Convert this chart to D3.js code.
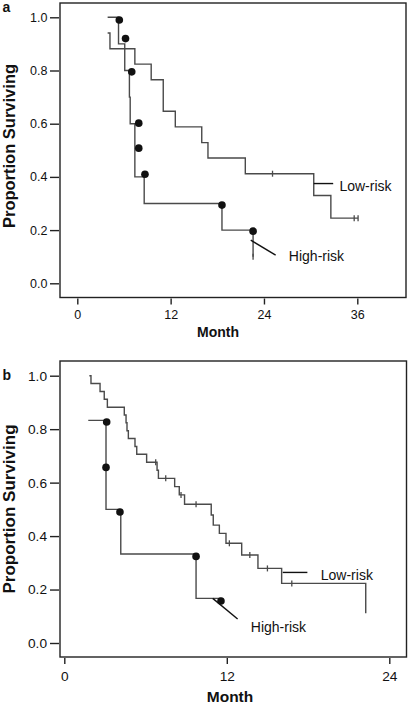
<!DOCTYPE html>
<html>
<head>
<meta charset="utf-8">
<script src="https://cdn.jsdelivr.net/npm/d3@7"></script>
<style>
  html, body { margin: 0; padding: 0; background: #fff; }
  svg { display: block; font-family: "Liberation Sans", Arial, Helvetica, sans-serif; }
</style>
</head>
<body>
<svg id="chart" width="410" height="704"></svg>
<script>
// ---------- Panel a data ----------
const aXTicks = [0, 12, 24, 36];
const aYTicks = [0.0, 0.2, 0.4, 0.6, 0.8, 1.0];
const aLowMonths = [3.9, 4.2, 7.4, 9.5, 11.05, 12.6, 16.0, 16.8, 21.6, 30.4, 32.6];
const aLowValues = [0.941, 0.882, 0.824, 0.765, 0.647, 0.588, 0.529, 0.471, 0.412, 0.33, 0.245];
const aLowEnd = 36.1;
const aLowCensorMonths = [25.1, 35.6, 36.1];
const aLowCensorValues = [0.412, 0.245, 0.245];
const aHighMonths = [3.9, 5.3, 6.1, 6.7, 6.8, 7.4, 8.6, 18.6, 22.6];
const aHighValues = [1.0, 0.9, 0.8, 0.7, 0.6, 0.4, 0.3, 0.2, 0.1];
const aHighEnd = 22.6;
const aHighCensorMonths = [22.6];
const aHighCensorValues = [0.1];
const aDotMonths = [5.4, 6.2, 7.0, 7.9, 7.9, 8.7, 18.6, 22.6];
const aDotValues = [0.99, 0.92, 0.795, 0.602, 0.508, 0.41, 0.294, 0.196];

// ---------- Panel b data ----------
const bXTicks = [0, 12, 24];
const bYTicks = [0.0, 0.2, 0.4, 0.6, 0.8, 1.0];
const bLowMonths = [1.85, 1.97, 2.64, 2.95, 3.18, 4.43, 4.56, 4.63, 4.73, 5.22, 5.35, 6.08, 6.85, 6.95, 8.15, 8.49, 8.88, 10.85, 11.0, 11.45, 11.94, 13.1, 14.3, 16.05, 22.26];
const bLowValues = [1.0, 0.971, 0.941, 0.912, 0.882, 0.853, 0.824, 0.794, 0.765, 0.735, 0.706, 0.676, 0.646, 0.616, 0.585, 0.554, 0.519, 0.479, 0.441, 0.41, 0.373, 0.329, 0.279, 0.223, 0.111];
const bLowEnd = 22.26;
const bLowCensorMonths = [6.75, 7.49, 8.62, 9.73, 12.19, 13.7, 15.0, 16.8];
const bLowCensorValues = [0.676, 0.616, 0.554, 0.519, 0.373, 0.329, 0.279, 0.223];
const bHighMonths = [1.77, 3.08, 4.17, 9.73];
const bHighValues = [0.833, 0.5, 0.333, 0.167];
const bHighEnd = 11.6;
const bHighCensorMonths = [];
const bHighCensorValues = [];
const bDotMonths = [3.13, 3.08, 4.11, 9.73, 11.57];
const bDotValues = [0.827, 0.657, 0.49, 0.324, 0.157];

// labels
const yTitle = "Proportion Surviving";
const xTitle = "Month";
const lowLabel = "Low-risk";
const highLabel = "High-risk";

const svg = d3.select("#chart");
const FONT = '"Liberation Sans", Arial, Helvetica, sans-serif';

function drawPanel(cfg) {
  const g = svg.append("g");
  const x = d3.scaleLinear().domain(cfg.xDomain).range(cfg.xRange);
  const y = d3.scaleLinear().domain([0, 1]).range(cfg.yRange);

  // frame
  g.append("rect")
    .attr("x", cfg.frame.x0).attr("y", cfg.frame.y0)
    .attr("width", cfg.frame.x1 - cfg.frame.x0)
    .attr("height", cfg.frame.y1 - cfg.frame.y0)
    .attr("fill", "none").attr("stroke", "#222").attr("stroke-width", 1.4);

  // y axis
  const ya = g.append("g").attr("transform", `translate(${cfg.frame.x0 - 1},0)`)
    .call(d3.axisLeft(y).tickValues(cfg.yTicks).tickFormat(d3.format(".1f"))
      .tickSize(9).tickSizeOuter(0).tickPadding(cfg.yPad));
  ya.select(".domain").remove();
  ya.selectAll("line").attr("stroke", "#222").attr("stroke-width", 1.4);
  ya.selectAll("text").attr("font-family", FONT).attr("font-size", cfg.tickFont).attr("fill", "#111");

  // x axis
  const xa = g.append("g").attr("transform", `translate(0,${cfg.frame.y1 + 1})`)
    .call(d3.axisBottom(x).tickValues(cfg.xTicks).tickFormat(d3.format("d"))
      .tickSize(6).tickSizeOuter(0).tickPadding(cfg.xPad));
  xa.select(".domain").remove();
  xa.selectAll("line").attr("stroke", "#222").attr("stroke-width", 1.4);
  xa.selectAll("text").attr("font-family", FONT).attr("font-size", cfg.tickFont).attr("fill", "#111");

  // titles
  g.append("text").attr("x", cfg.monthX).attr("y", cfg.monthY)
    .attr("text-anchor", "middle").attr("font-weight", "bold")
    .attr("font-size", cfg.monthFont).attr("fill", "#111").text(xTitle);
  g.append("text")
    .attr("transform", `translate(${cfg.yTitleX},${cfg.yTitleY}) rotate(-90)`)
    .attr("text-anchor", "middle").attr("font-weight", "bold")
    .attr("font-size", cfg.yTitleFont).attr("fill", "#111").text(yTitle);
  g.append("text").attr("x", cfg.letterX).attr("y", cfg.letterY)
    .attr("font-weight", "bold").attr("font-size", 14).attr("fill", "#111").text(cfg.letter);

  const line = d3.line().x(d => x(d[0])).y(d => y(d[1])).curve(d3.curveStepAfter);
  function curve(months, values, end) {
    const pts = months.map((m, i) => [m, values[i]]);
    if (end > months[months.length - 1]) pts.push([end, values[values.length - 1]]);
    g.append("path").attr("d", line(pts)).attr("fill", "none")
      .attr("stroke", "#4a4a4a").attr("stroke-width", 1.4);
  }
  function censors(months, values) {
    g.selectAll(null).data(months.map((m, i) => [m, values[i]])).enter()
      .append("line")
      .attr("x1", d => x(d[0])).attr("x2", d => x(d[0]))
      .attr("y1", d => y(d[1]) - 3).attr("y2", d => y(d[1]) + 3)
      .attr("stroke", "#4a4a4a").attr("stroke-width", 1.3);
  }
  curve(cfg.lowM, cfg.lowV, cfg.lowEnd);
  curve(cfg.highM, cfg.highV, cfg.highEnd);
  censors(cfg.lowCM, cfg.lowCV);
  censors(cfg.highCM, cfg.highCV);

  g.selectAll(null).data(cfg.dotM.map((m, i) => [m, cfg.dotV[i]])).enter()
    .append("circle").attr("cx", d => x(d[0])).attr("cy", d => y(d[1]))
    .attr("r", 3.8).attr("fill", "#111");

  // leader lines + labels
  const L = cfg.lowLead, H = cfg.highLead;
  g.append("line").attr("x1", x(L[0])).attr("y1", y(L[1])).attr("x2", x(L[2])).attr("y2", y(L[3]))
    .attr("stroke", "#111").attr("stroke-width", 1.4);
  g.append("line").attr("x1", x(H[0])).attr("y1", y(H[1])).attr("x2", x(H[2])).attr("y2", y(H[3]))
    .attr("stroke", "#111").attr("stroke-width", 1.4);
  g.append("text").attr("x", x(cfg.lowLab[0])).attr("y", y(cfg.lowLab[1])).attr("dy", "0.35em")
    .attr("font-size", 14).attr("fill", "#111").text(lowLabel);
  g.append("text").attr("x", x(cfg.highLab[0])).attr("y", y(cfg.highLab[1])).attr("dy", "0.35em")
    .attr("font-size", 14).attr("fill", "#111").text(highLabel);
}

drawPanel({
  frame: {x0: 60, y0: 3, x1: 406, y1: 297.5},
  xDomain: [0, 36], xRange: [77.3, 357.3], yRange: [283.3, 17.3],
  xTicks: aXTicks, yTicks: aYTicks, tickFont: 12.5, yPad: 2.5, xPad: 6,
  monthX: 218, monthY: 336.7, monthFont: 14,
  yTitleX: 14.5, yTitleY: 146, yTitleFont: 16.5,
  letter: "a", letterX: 2.5, letterY: 11.5,
  lowM: aLowMonths, lowV: aLowValues, lowEnd: aLowEnd, lowCM: aLowCensorMonths, lowCV: aLowCensorValues,
  highM: aHighMonths, highV: aHighValues, highEnd: aHighEnd, highCM: aHighCensorMonths, highCV: aHighCensorValues,
  dotM: aDotMonths, dotV: aDotValues,
  lowLead: [30.4, 0.375, 32.9, 0.375], highLead: [22.3, 0.162, 25.5, 0.106],
  lowLab: [33.7, 0.366], highLab: [27.2, 0.102]
});

drawPanel({
  frame: {x0: 60, y0: 361, x1: 406.5, y1: 657},
  xDomain: [0, 24], xRange: [64.3, 389.3], yRange: [643, 375.7],
  xTicks: bXTicks, yTicks: bYTicks, tickFont: 13.7, yPad: 3, xPad: 7,
  monthX: 230, monthY: 701.5, monthFont: 15.5,
  yTitleX: 15, yTitleY: 509, yTitleFont: 17,
  letter: "b", letterX: 2.5, letterY: 380,
  lowM: bLowMonths, lowV: bLowValues, lowEnd: bLowEnd, lowCM: bLowCensorMonths, lowCV: bLowCensorValues,
  highM: bHighMonths, highV: bHighValues, highEnd: bHighEnd, highCM: bHighCensorMonths, highCV: bHighCensorValues,
  dotM: bDotMonths, dotV: bDotValues,
  lowLead: [16.13, 0.264, 17.95, 0.264], highLead: [10.96, 0.167, 12.8, 0.09],
  lowLab: [18.94, 0.254], highLab: [13.77, 0.061]
});
</script>
</body>
</html>
